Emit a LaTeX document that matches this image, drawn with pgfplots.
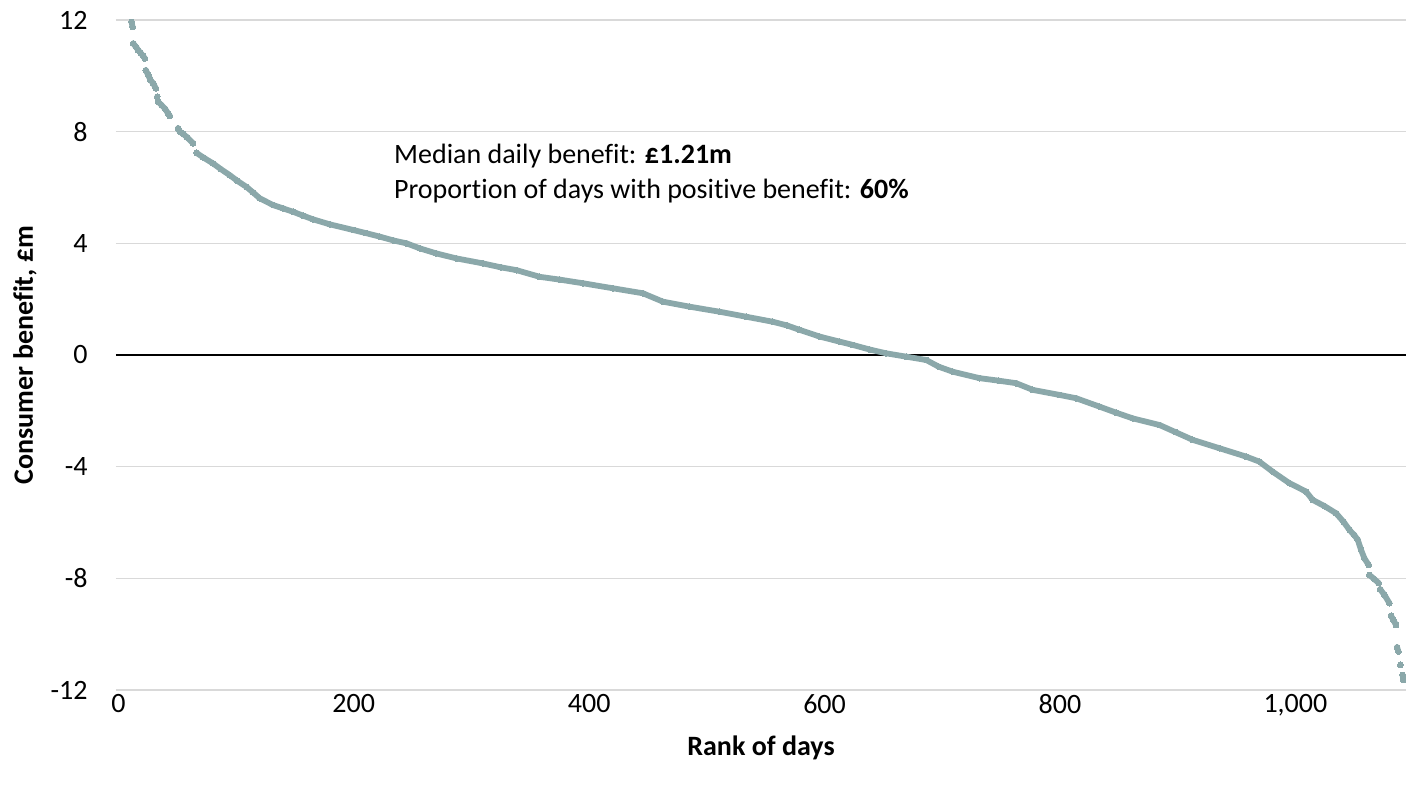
\documentclass[border=0pt]{standalone}
\usepackage{pgfplots}
\pgfplotsset{compat=1.18}
\usepackage{fontspec}
\setmainfont{Carlito}[Ligatures=NoCommon]
\definecolor{dotcol}{RGB}{139,168,170}
\definecolor{gridcol}{RGB}{217,217,217}
\begin{document}
\fontsize{14}{17}\selectfont
\begin{tikzpicture}
\begin{axis}[
  scale only axis,
  width=645pt, height=335pt,
  xmin=-2, xmax=1094, ymin=-12, ymax=12,
  xtick={0,200,400,600,800,1000},
  ytick={-12,-8,-4,0,4,8,12},
  axis line style={draw=none},
  major tick length=0pt,
  ymajorgrids,
  grid style={draw=gridcol, line width=0.8pt},
  extra y ticks={0},
  extra y tick labels={},
  extra y tick style={grid style={draw=black, line width=1pt}},
  /pgf/number format/.cd, 1000 sep={,}, assume math mode=true,
  /pgfplots/.cd,
  yticklabel style={inner sep=0pt, anchor=east, xshift=-14pt},
  xticklabel style={inner sep=0pt, anchor=north, yshift=-2pt},
  xlabel={\textbf{Rank of days}},
  ylabel={\textbf{Consumer benefit, £m}},
  xlabel style={at={(axis description cs:0.5,-0.0866)}, anchor=center},
  ylabel style={at={(axis description cs:-0.0705,0.5)}, anchor=center},
  unbounded coords=jump,
  clip=true,
]
\addplot[color=dotcol, line width=2.9pt, line cap=round, line join=round,
  mark=*, mark size=1.45pt, mark options={fill=dotcol, draw=dotcol, line width=0pt}]
  table[row sep=\\] {
x y\\
11.2 11.93\\
12.1 11.75\\
12.3 nan\\
12.6 11.16\\
14.9 11.04\\
16.8 10.92\\
18.9 10.82\\
21.1 10.71\\
22.5 10.62\\
23.0 nan\\
23.4 10.20\\
25.3 10.03\\
27.3 9.85\\
29.6 9.73\\
31.8 9.55\\
32.5 nan\\
33.0 9.25\\
33.4 nan\\
33.8 9.07\\
36.7 8.95\\
39.5 8.83\\
42.3 8.65\\
43.7 8.56\\
47.0 nan\\
50.8 8.12\\
52.2 8.00\\
55.0 7.92\\
58.4 7.80\\
63.5 7.58\\
65.0 nan\\
66.4 7.24\\
72.0 7.08\\
80.5 6.86\\
87.0 6.66\\
94.7 6.44\\
101.0 6.24\\
108.9 6.02\\
114.5 5.82\\
120.2 5.61\\
131.5 5.37\\
140.0 5.25\\
148.5 5.13\\
157.0 4.99\\
165.4 4.86\\
179.6 4.68\\
199.4 4.48\\
210.0 4.37\\
222.1 4.24\\
234.0 4.10\\
244.8 4.00\\
256.1 3.82\\
270.0 3.64\\
287.2 3.46\\
309.8 3.28\\
325.0 3.14\\
338.2 3.04\\
358.0 2.80\\
375.0 2.70\\
394.7 2.57\\
420.2 2.39\\
445.7 2.21\\
462.7 1.91\\
485.4 1.73\\
510.8 1.55\\
533.5 1.37\\
556.1 1.19\\
568.0 1.06\\
578.8 0.90\\
595.8 0.66\\
612.7 0.48\\
624.0 0.36\\
638.0 0.20\\
652.4 0.06\\
669.4 -0.06\\
686.4 -0.18\\
697.0 -0.42\\
709.0 -0.60\\
731.7 -0.83\\
748.0 -0.92\\
762.8 -1.01\\
776.9 -1.25\\
799.6 -1.43\\
813.8 -1.55\\
833.6 -1.85\\
848.0 -2.07\\
861.8 -2.27\\
884.7 -2.51\\
898.0 -2.76\\
912.8 -3.04\\
935.5 -3.34\\
958.2 -3.64\\
969.4 -3.82\\
980.7 -4.18\\
994.9 -4.59\\
1009.0 -4.89\\
1014.7 -5.19\\
1025.0 -5.42\\
1034.6 -5.67\\
1041.0 -5.98\\
1046.0 -6.27\\
1050.0 -6.45\\
1053.0 -6.62\\
1055.8 -6.98\\
1058.6 -7.28\\
1062.2 -7.52\\
1062.5 nan\\
1062.9 -7.88\\
1067.1 -8.03\\
1070.8 -8.17\\
1071.4 nan\\
1072.0 -8.39\\
1075.6 -8.59\\
1079.9 -8.89\\
1080.6 nan\\
1081.3 -9.34\\
1083.2 -9.49\\
1085.5 -9.67\\
1086.0 nan\\
1086.4 -10.47\\
1087.5 -10.62\\
1088.3 nan\\
1089.2 -11.10\\
1090.0 nan\\
1091.1 -11.46\\
1091.7 -11.64\\
};
\node[anchor=base west, inner sep=0pt] at (axis cs:234,6.86) {Median daily benefit: \textbf{£1.21m}};
\node[anchor=base west, inner sep=0pt] at (axis cs:234,5.60) {Proportion of days with positive benefit: \textbf{60\%}};
\end{axis}
\pgfresetboundingbox
\path[use as bounding box] ([shift={(-58pt,-48.5pt)}]current axis.south west) rectangle ([shift={(0pt,10pt)}]current axis.north east);
\end{tikzpicture}
\end{document}
